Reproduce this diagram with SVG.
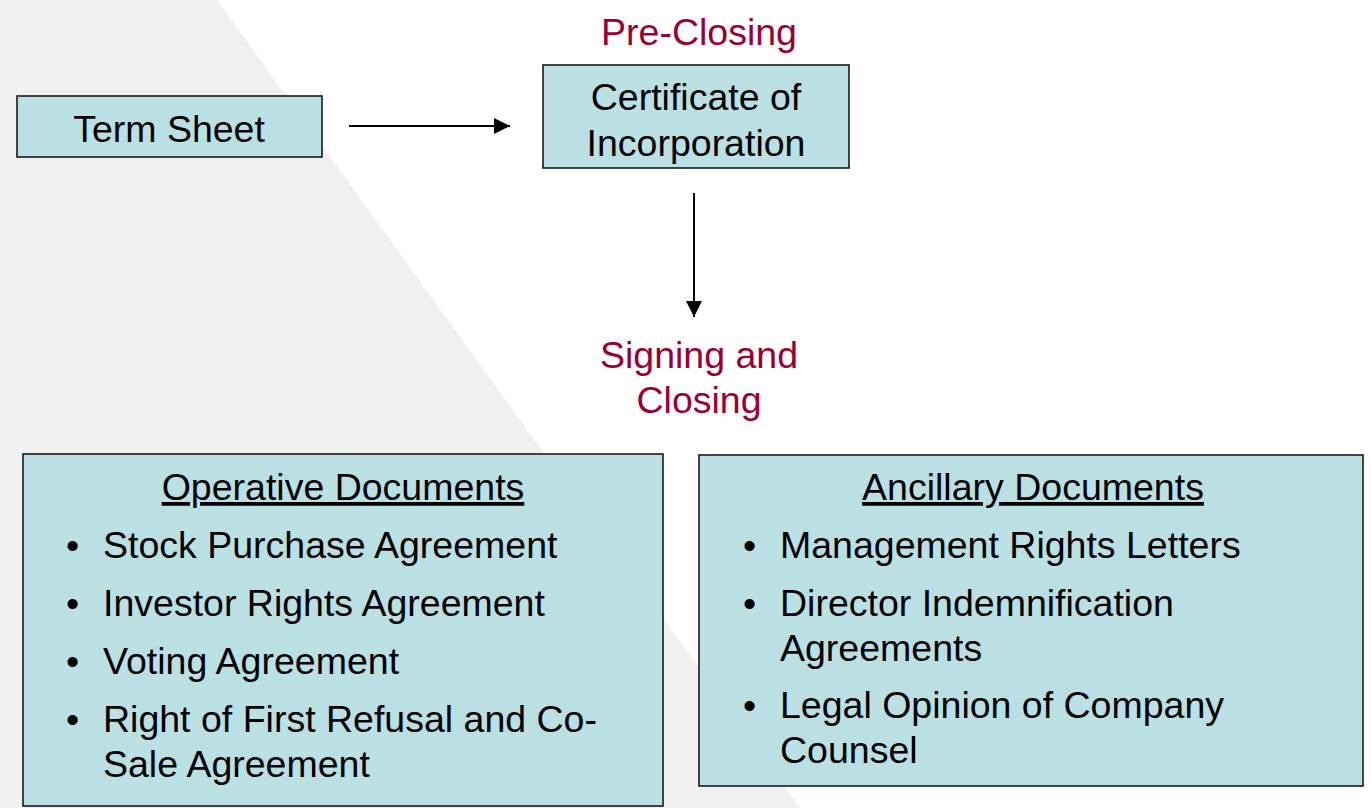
<svg xmlns="http://www.w3.org/2000/svg" width="1371" height="808" viewBox="0 0 1371 808">
<style>
.box{fill:#BBE0E3;stroke:#1a1a1a;stroke-width:1.6}
.t{font-family:"Liberation Sans",Arial,sans-serif;font-size:37.5px;fill:#000}
.red{font-family:"Liberation Sans",Arial,sans-serif;font-size:37.5px;fill:#990033}
.c{text-anchor:middle}
.u{text-decoration:underline}
.conn{stroke:#000;stroke-width:2;fill:none}
</style>
<defs>
<marker id="ah2" viewBox="0 0 16 16" refX="16" refY="8" markerWidth="16" markerHeight="16" markerUnits="userSpaceOnUse" orient="auto">
<path d="M0,0 L16,8 L0,16 z" fill="#000"/>
</marker>
</defs>
<rect width="1371" height="808" fill="#ffffff"/>
<polygon points="0,0 217,0 800,808 0,808" fill="#F0F0F0"/>

<g id="connectors">
<line class="conn" x1="349" y1="126" x2="510" y2="126" marker-end="url(#ah2)"/>
<line class="conn" x1="694" y1="193" x2="694" y2="317" marker-end="url(#ah2)"/>
</g>

<g id="term-sheet">
<rect class="box" x="17" y="96" width="305" height="61"/>
<text class="t c" x="169" y="142">Term Sheet</text>
</g>

<g id="pre-closing">
<text class="red c" x="699" y="45">Pre-Closing</text>
</g>

<g id="certificate">
<rect class="box" x="543" y="65" width="306" height="103"/>
<text class="t c" x="696" y="110">Certificate of</text>
<text class="t c" x="696" y="156">Incorporation</text>
</g>

<g id="signing-closing">
<text class="red c" x="699" y="368">Signing and</text>
<text class="red c" x="699" y="413">Closing</text>
</g>

<g id="operative">
<rect class="box" x="23" y="454" width="640" height="352"/>
<text class="t c u" x="343" y="500">Operative Documents</text>
<text class="t" x="66" y="558">•</text>
<text class="t" x="103" y="558">Stock Purchase Agreement</text>
<text class="t" x="66" y="616">•</text>
<text class="t" x="103" y="616">Investor Rights Agreement</text>
<text class="t" x="66" y="674">•</text>
<text class="t" x="103" y="674">Voting Agreement</text>
<text class="t" x="66" y="732">•</text>
<text class="t" x="103" y="732">Right of First Refusal and Co-</text>
<text class="t" x="103" y="777">Sale Agreement</text>
</g>

<g id="ancillary">
<rect class="box" x="699" y="455" width="664" height="331"/>
<text class="t c u" x="1033" y="500">Ancillary Documents</text>
<text class="t" x="743" y="558">•</text>
<text class="t" x="780" y="558">Management Rights Letters</text>
<text class="t" x="743" y="616">•</text>
<text class="t" x="780" y="616">Director Indemnification</text>
<text class="t" x="780" y="661">Agreements</text>
<text class="t" x="743" y="718">•</text>
<text class="t" x="780" y="718">Legal Opinion of Company</text>
<text class="t" x="780" y="763">Counsel</text>
</g>
</svg>
